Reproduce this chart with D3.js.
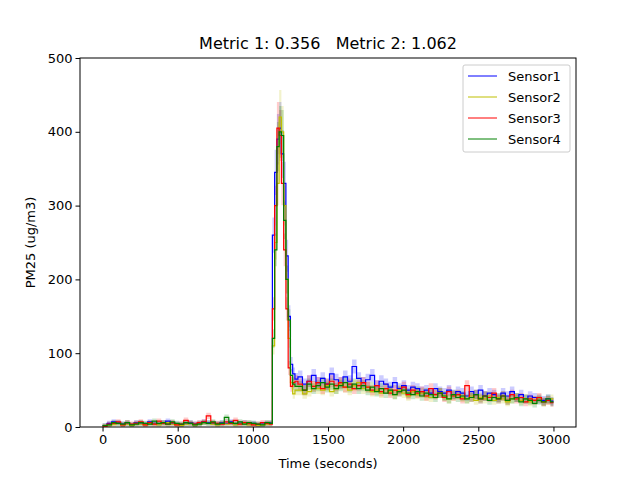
<!DOCTYPE html>
<html><head><meta charset="utf-8">
<script src="https://cdn.jsdelivr.net/npm/d3@7"></script>
<style>body{margin:0;background:#fff}text{font-family:"DejaVu Sans",sans-serif;white-space:pre}</style>
</head><body><svg id="c" width="640" height="480"></svg>
<script>
const sensors=["Sensor1","Sensor2","Sensor3","Sensor4"];
const colors=["#0000ff","#bfbf00","#ff0000","#008000"];
const xTicks=[0,500,1000,1500,2000,2500,3000];
const yTicks=[0,100,200,300,400,500];
const tBase=d3.range(0,1111,30);
const tPeak=[1130,1145,1160,1175,1190,1205,1220,1235,1250,1265,1280];
const tPost=d3.range(1300,2981,30);
const times=tBase.concat(tPeak,tPost);
const base1=[2,5,7,6,4,5,3,6,5,4,7,5,4,6,8,5,4,3,5,6,4,5,7,6,5,4,6,5,7,4,5,6,4,5,3,4,5,6];
const base2=[1,3,4,5,3,4,2,5,4,3,5,4,3,5,6,4,3,2,4,5,3,4,6,5,4,3,5,4,6,3,4,5,3,4,2,3,4,5];
const base3=[1,4,5,7,3,6,4,5,7,3,6,4,8,5,4,6,3,4,9,5,4,6,7,15,6,5,4,7,5,9,4,6,5,3,4,6,5,4];
const base4=[2,3,6,5,4,6,3,4,6,5,4,8,5,6,4,7,5,4,6,5,3,4,6,5,7,4,5,13,6,5,7,4,6,5,4,3,6,5];
const peak1=[260,345,390,405,370,330,232,150,85,72,65];
const peak2=[110,250,330,420,400,300,200,120,60,45,50];
const peak3=[160,300,405,395,330,240,160,80,55,60,62];
const peak4=[120,240,380,400,395,280,200,145,70,58,55];
const post1=[68,58,62,70,60,66,58,72,64,60,68,62,82,66,60,64,70,56,62,58,54,60,52,56,50,54,52,48,50,46,52,48,46,50,44,48,46,42,48,44,50,42,46,44,40,46,42,48,40,44,38,42,40,38,36,38,35];
const post2=[50,45,48,55,52,50,56,48,52,58,54,50,56,60,52,54,48,50,46,52,48,44,50,46,42,48,44,46,42,40,44,46,42,38,42,44,40,38,42,36,40,38,42,36,40,38,34,38,40,36,38,34,36,38,34,36,38];
const post3=[58,50,62,55,60,52,58,62,56,60,54,58,52,56,60,54,50,56,48,52,46,50,48,54,44,50,46,48,42,52,44,46,40,48,42,44,38,56,40,44,38,42,40,46,38,42,36,44,38,40,34,38,36,40,34,36,33];
const post4=[55,50,58,52,56,60,54,58,52,56,60,54,58,52,56,50,54,48,52,46,50,44,48,50,46,44,48,42,46,44,40,46,42,38,44,40,42,38,40,44,38,42,36,40,38,42,36,38,40,34,38,36,32,36,34,38,34];
const series=[base1.concat(peak1,post1),base2.concat(peak2,post2),base3.concat(peak3,post3),base4.concat(peak4,post4)];

const svg=d3.select("#c");
const L=80,R=576,T=58,B=427;
const x=d3.scaleLinear().domain([-150,3150]).range([L,R]);
const y=d3.scaleLinear().domain([0,500]).range([B,T]);
const g=svg.append("g");
series.forEach((s,i)=>{
  const pts=times.map((t,j)=>({t,v:s[j]}));
  pts.push({t:3000,v:s[s.length-1]});
  const area=d3.area().curve(d3.curveStepAfter).x(d=>x(d.t)).y0(d=>y(Math.max(0,d.v-(d.v*0.08+3)))).y1(d=>y(d.v+(d.v*0.08+3)));
  g.append("path").attr("d",area(pts)).attr("fill",colors[i]).attr("opacity",0.2);
});
series.forEach((s,i)=>{
  const pts=times.map((t,j)=>({t,v:s[j]}));
  pts.push({t:3000,v:s[s.length-1]});
  const line=d3.line().curve(d3.curveStepAfter).x(d=>x(d.t)).y(d=>y(d.v));
  g.append("path").attr("d",line(pts)).attr("fill","none").attr("stroke",colors[i]).attr("stroke-width",1.2);
});
svg.append("rect").attr("x",L).attr("y",T).attr("width",R-L).attr("height",B-T).attr("fill","none").attr("stroke","#000").attr("stroke-width",1);
const xa=svg.append("g").attr("transform",`translate(0,${B})`).call(d3.axisBottom(x).tickValues(xTicks).tickSize(4.5).tickPadding(3).tickFormat(d3.format("d")));
const ya=svg.append("g").attr("transform",`translate(${L},0)`).call(d3.axisLeft(y).tickValues(yTicks).tickSize(4.5).tickPadding(3).tickFormat(d3.format("d")));
[xa,ya].forEach(a=>{a.select(".domain").remove();a.selectAll("text").attr("font-size",13).attr("font-family","DejaVu Sans").attr("fill","#000");a.selectAll("line").attr("stroke","#000");});
svg.append("text").attr("x",(L+R)/2).attr("y",468).attr("text-anchor","middle").attr("font-size",13).text("Time (seconds)");
svg.append("text").attr("transform",`translate(35,${(T+B)/2}) rotate(-90)`).attr("text-anchor","middle").attr("font-size",13).text("PM25 (ug/m3)");
svg.append("text").attr("x",(L+R)/2).attr("y",49).attr("text-anchor","middle").attr("font-size",16).attr("xml:space","preserve").text("Metric 1: 0.356   Metric 2: 1.062");
const lg=svg.append("g");
lg.append("rect").attr("x",463).attr("y",65).attr("width",107).attr("height",87).attr("rx",2).attr("fill","#fff").attr("fill-opacity",0.8).attr("stroke","#ccc");
sensors.forEach((n,i)=>{
  const yy=76+i*21;
  lg.append("line").attr("x1",468).attr("x2",497).attr("y1",yy).attr("y2",yy).attr("stroke",colors[i]).attr("stroke-width",1);
  lg.append("text").attr("x",508).attr("y",yy+4.5).attr("font-size",13).text(n);
});
</script></body></html>
